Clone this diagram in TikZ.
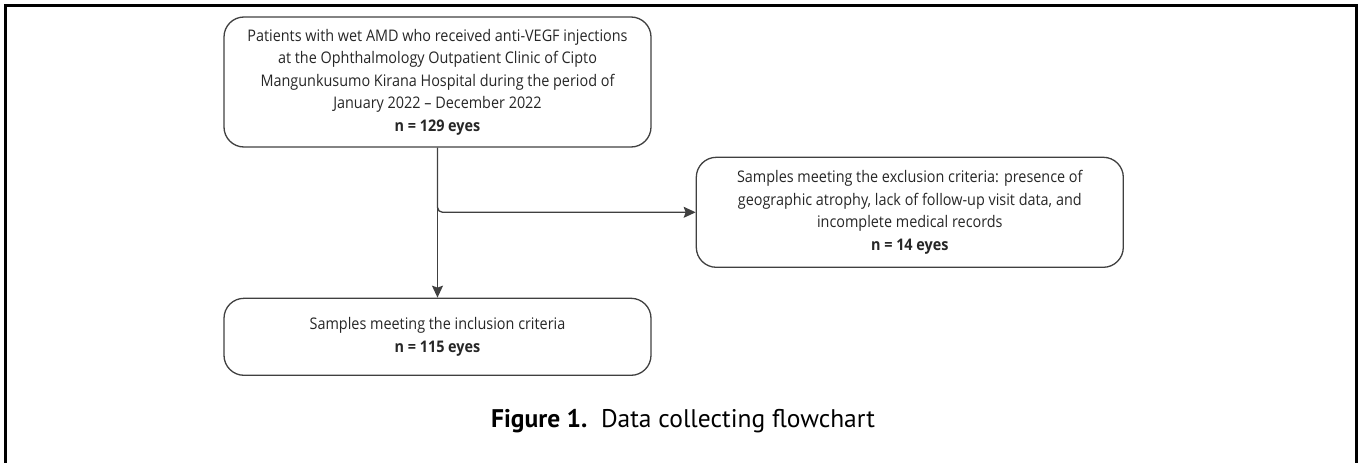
\documentclass[tikz,border=0pt]{standalone}
\usepackage{fontspec}
\setmainfont[FakeStretch=0.9]{Open Sans}
\newfontfamily\capfont{PT Sans}
\usetikzlibrary{arrows.meta,positioning}

\begin{document}
\begin{tikzpicture}[x=1pt,y=-1pt,node distance=44pt,>={Stealth[length=12pt,width=11pt,inset=2pt]}]
	\tikzstyle{box}=[rectangle, rounded corners=20pt, draw=black!75, line width=1.3pt, minimum width=427pt, align=center, text=black!85, font=\fontsize{16}{22.5}\selectfont]
	\tikzstyle{conn}=[->, draw=black!75, line width=1.3pt]

	\useasboundingbox (0,0) rectangle (1361,463);
	\draw [line width=2.5pt] (5.5,463) -- (5.5,5.5) -- (1356.5,5.5) -- (1356.5,463);

	\node [box, minimum height=130pt] (patients) at (437.5,82) {Patients with wet AMD who received anti-VEGF injections\\at the Ophthalmology Outpatient Clinic of Cipto\\Mangunkusumo Kirana Hospital during the period of\\January 2022 -- December 2022\\\textbf{n = 129 eyes}};
	\node [box, minimum height=110pt, below right=9pt and 44pt of patients.south east] (excl) {Samples meeting the exclusion criteria: presence of\\geographic atrophy, lack of follow-up visit data, and\\incomplete medical records\\\textbf{n = 14 eyes}};
	\node [box, minimum height=77pt, below=150pt of patients] (incl) {Samples meeting the inclusion criteria\\\textbf{n = 115 eyes}};
	\node [font=\capfont\fontsize{25.5}{28}\selectfont] (caption) at (683,421) {\textbf{Figure 1.}\ \ Data collecting flowchart};

	\draw [conn] (patients) -- (incl);
	\draw [conn, rounded corners=5pt] (patients.south) |- (excl);
\end{tikzpicture}
\end{document}
